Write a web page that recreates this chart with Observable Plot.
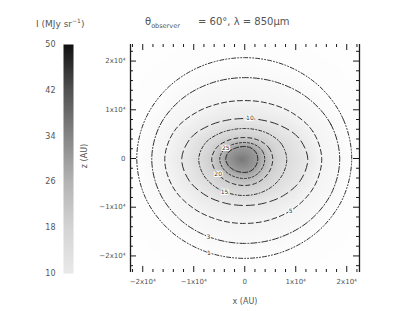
<!DOCTYPE html>
<html>
<head>
<meta charset="utf-8">
<script src="https://cdn.jsdelivr.net/npm/d3@7"></script>
<script src="https://cdn.jsdelivr.net/npm/@observablehq/plot@0.6"></script>
<style>
  body { margin: 0; background: #fff; }
  #wrap { position: relative; width: 402px; height: 311px; background: #fff; overflow: hidden; font-family: "DejaVu Sans", sans-serif; color: #555; }
  .abs { position: absolute; white-space: nowrap; }
  #map, #cb { position: absolute; left: 0; top: 0; }
</style>
</head>
<body>
<div id="wrap">
  <div id="map"></div>
  <div id="cb"></div>
  <div class="abs" style="left:36px;top:17px;font-size:9px;">I (MJy sr<sup style="font-size:6px">−1</sup>)</div>
  <div class="abs" style="left:145px;top:16px;font-size:10px;">θ<sub style="font-size:6.5px">observer</sub></div>
  <div class="abs" style="left:198px;top:16px;font-size:10px;">= 60°, λ = 850μm</div>
  <div class="abs" style="left:245px;top:301px;font-size:8px;transform:translate(-50%,-50%);">x (AU)</div>
  <div class="abs" style="left:84px;top:156px;font-size:8px;transform:translate(-50%,-50%) rotate(-90deg);">z (AU)</div>
</div>
<script>
// ---- data ----
const levels = [1, 3, 5, 10, 15, 20, 25, 30];           // contour levels (MJy sr^-1)
const angles = [0, 22.5, 45, 67.5, 90, 112.5, 135, 157.5, 180, 202.5, 225, 247.5, 270, 292.5, 315, 337.5]; // directions (deg)
// contour radius (AU) along each direction
const radius1  = [20970, 20930, 20835, 20740, 20700, 20770, 20935, 21100, 21170, 21070, 20835, 20600, 20500, 20570, 20735, 20900];
const radius3  = [18620, 18280, 17520, 16860, 16600, 16810, 17360, 17960, 18230, 18110, 17820, 17540, 17430, 17590, 18000, 18430];
const radius5  = [15090, 14460, 13210, 12240, 11890, 12280, 13400, 14900, 15680, 15260, 14360, 13610, 13330, 13550, 14130, 14790];
const radius10 = [12350, 11340, 9660, 8560, 8200, 8560, 9660, 11340, 12350, 11810, 10750, 9930, 9640, 9930, 10750, 11810];
const radius15 = [8230, 7790, 6970, 6360, 6150, 6410, 7190, 8340, 9020, 8760, 8210, 7760, 7590, 7670, 7890, 8130];
const radius20 = [5490, 5250, 4790, 4430, 4300, 4490, 5070, 5940, 6470, 6300, 5950, 5650, 5540, 5530, 5520, 5500];
const radius25 = [3920, 3800, 3560, 3350, 3280, 3420, 3860, 4510, 4900, 4750, 4450, 4190, 4100, 4070, 4010, 3950];
const radius30 = [2550, 2540, 2500, 2470, 2460, 2570, 2900, 3410, 3720, 3550, 3210, 2960, 2870, 2820, 2700, 2590];
const peakX = -600, peakY = -200, peakValue = 36;
const outerRadius = 34000, outerValue = 0.2;
// contour labels: which level and at which direction (deg)
const labelLevels = [1, 3, 5, 10, 15, 20, 25];
const labelAngles = [250, 246, 310, 83, 240, 212, 150];
// axes
const xDomain = [-22400, 22500];
const yDomain = [-23400, 23400];
const xTickValues = [-20000, -10000, 0, 10000, 20000];
const xTickLabels = ["−2x10⁴", "−1x10⁴", "0", "1x10⁴", "2x10⁴"];
const yTickValues = [-20000, -10000, 0, 10000, 20000];
const yTickLabels = ["−2x10⁴", "−1x10⁴", "0", "1x10⁴", "2x10⁴"];
const xMinorTicks = [-22000, -18000, -16000, -14000, -12000, -8000, -6000, -4000, -2000, 2000, 4000, 6000, 8000, 12000, 14000, 16000, 18000, 22000];
const yMinorTicks = [-22000, -18000, -16000, -14000, -12000, -8000, -6000, -4000, -2000, 2000, 4000, 6000, 8000, 12000, 14000, 16000, 18000, 22000];
// colour bar
const cbTicks = [10, 18, 26, 34, 42, 50];
const colorStops = [0, 10, 18, 26, 34, 42, 50];
const colorGreys = ["#ffffff", "#e9e9e9", "#d4d4d4", "#b4b4b4", "#858585", "#525252", "#101010"];
// line styles per level
const dashes = ["4,2,1,2,1,2", "6,2,1,2", "5,3", "8,4", "3,2,1,2", "4,3", "2,2", "5,2"];

// ---- build tables ----
const rings = [radius1, radius3, radius5, radius10, radius15, radius20, radius25, radius30];
const ringPoints = [];
rings.forEach((radii, i) => {
  radii.forEach((r, j) => {
    const a = angles[j] * Math.PI / 180;
    ringPoints.push({x: r * Math.cos(a), y: r * Math.sin(a), v: levels[i]});
  });
});
const points = ringPoints.slice();
angles.forEach(deg => {
  const a = deg * Math.PI / 180;
  points.push({x: outerRadius * Math.cos(a), y: outerRadius * Math.sin(a), v: outerValue});
});
points.push({x: peakX, y: peakY, v: peakValue});

function ringRadius(radii, deg) {
  const step = 22.5;
  const k = Math.floor(deg / step) % radii.length;
  const t = (deg - k * step) / step;
  return radii[k] * (1 - t) + radii[(k + 1) % radii.length] * t;
}
const labels = labelLevels.map((L, i) => {
  const radii = rings[levels.indexOf(L)];
  const r = ringRadius(radii, labelAngles[i]);
  const a = labelAngles[i] * Math.PI / 180;
  return {x: r * Math.cos(a), y: r * Math.sin(a), text: String(L)};
});

const colorScale = {type: "linear", domain: colorStops, range: colorGreys, clamp: true};
const W = 402, H = 311, mL = 130, mR = 43, mT = 44, mB = 39;
const pw = W - mL - mR, ph = H - mT - mB;
const ink = "#1a1a1a";

const contourMarks = levels.map((L, i) => Plot.line(ringPoints.filter(d => d.v === L), {
  x: "x", y: "y", curve: "catmull-rom-closed",
  stroke: ink, strokeWidth: 0.9, strokeDasharray: dashes[i]
}));

const map = Plot.plot({
  width: W, height: H,
  marginLeft: mL, marginRight: mR, marginTop: mT, marginBottom: mB,
  style: {background: "transparent", fontFamily: "DejaVu Sans, sans-serif", overflow: "visible"},
  x: {domain: xDomain, axis: null},
  y: {domain: yDomain, axis: null},
  color: colorScale,
  marks: [
    Plot.raster(points, {x: "x", y: "y", fill: "v", interpolate: "barycentric"}),
    ...contourMarks,
    Plot.text(labels, {x: "x", y: "y", text: "text", fontSize: 6, fill: "#333", stroke: "white", strokeWidth: 2}),
    Plot.ruleX(xDomain, {stroke: ink, strokeWidth: 1.3}),
    // inward ticks
    Plot.tickX(xTickValues, {x: d => d, insetTop: ph - 6, stroke: ink}),
    Plot.tickX(xTickValues, {x: d => d, insetBottom: ph - 6, stroke: ink}),
    Plot.tickX(xMinorTicks, {x: d => d, insetTop: ph - 3, stroke: ink}),
    Plot.tickX(xMinorTicks, {x: d => d, insetBottom: ph - 3, stroke: ink}),
    Plot.tickY(yTickValues, {y: d => d, insetRight: pw - 6, stroke: ink}),
    Plot.tickY(yTickValues, {y: d => d, insetLeft: pw - 6, stroke: ink}),
    Plot.tickY(yMinorTicks, {y: d => d, insetRight: pw - 3, stroke: ink}),
    Plot.tickY(yMinorTicks, {y: d => d, insetLeft: pw - 3, stroke: ink}),
    Plot.axisX({ticks: xTickValues, tickFormat: d => xTickLabels[xTickValues.indexOf(d)], tickSize: 0, tickPadding: 7, fontSize: 7, fill: "#555", label: null}),
    Plot.axisY({ticks: yTickValues, tickFormat: d => yTickLabels[yTickValues.indexOf(d)], tickSize: 0, tickPadding: 5, fontSize: 7, fill: "#555", label: null})
  ]
});
document.getElementById("map").append(map);

const cb = Plot.plot({
  width: 80, height: H,
  marginLeft: 63, marginRight: 7, marginTop: 44, marginBottom: 38,
  style: {background: "transparent", fontFamily: "DejaVu Sans, sans-serif", overflow: "visible"},
  x: {domain: [0, 1], axis: null},
  y: {domain: [cbTicks[0], cbTicks[cbTicks.length - 1]], axis: null},
  color: colorScale,
  marks: [
    Plot.raster({x1: 0, x2: 1, y1: cbTicks[0], y2: cbTicks[cbTicks.length - 1], width: 1, height: 229, fill: (x, y) => y}),
    Plot.axisY({ticks: cbTicks, tickSize: 0, tickPadding: 8, fontSize: 8, fill: "#555", label: null})
  ]
});
document.getElementById("cb").append(cb);
</script>
</body>
</html>
